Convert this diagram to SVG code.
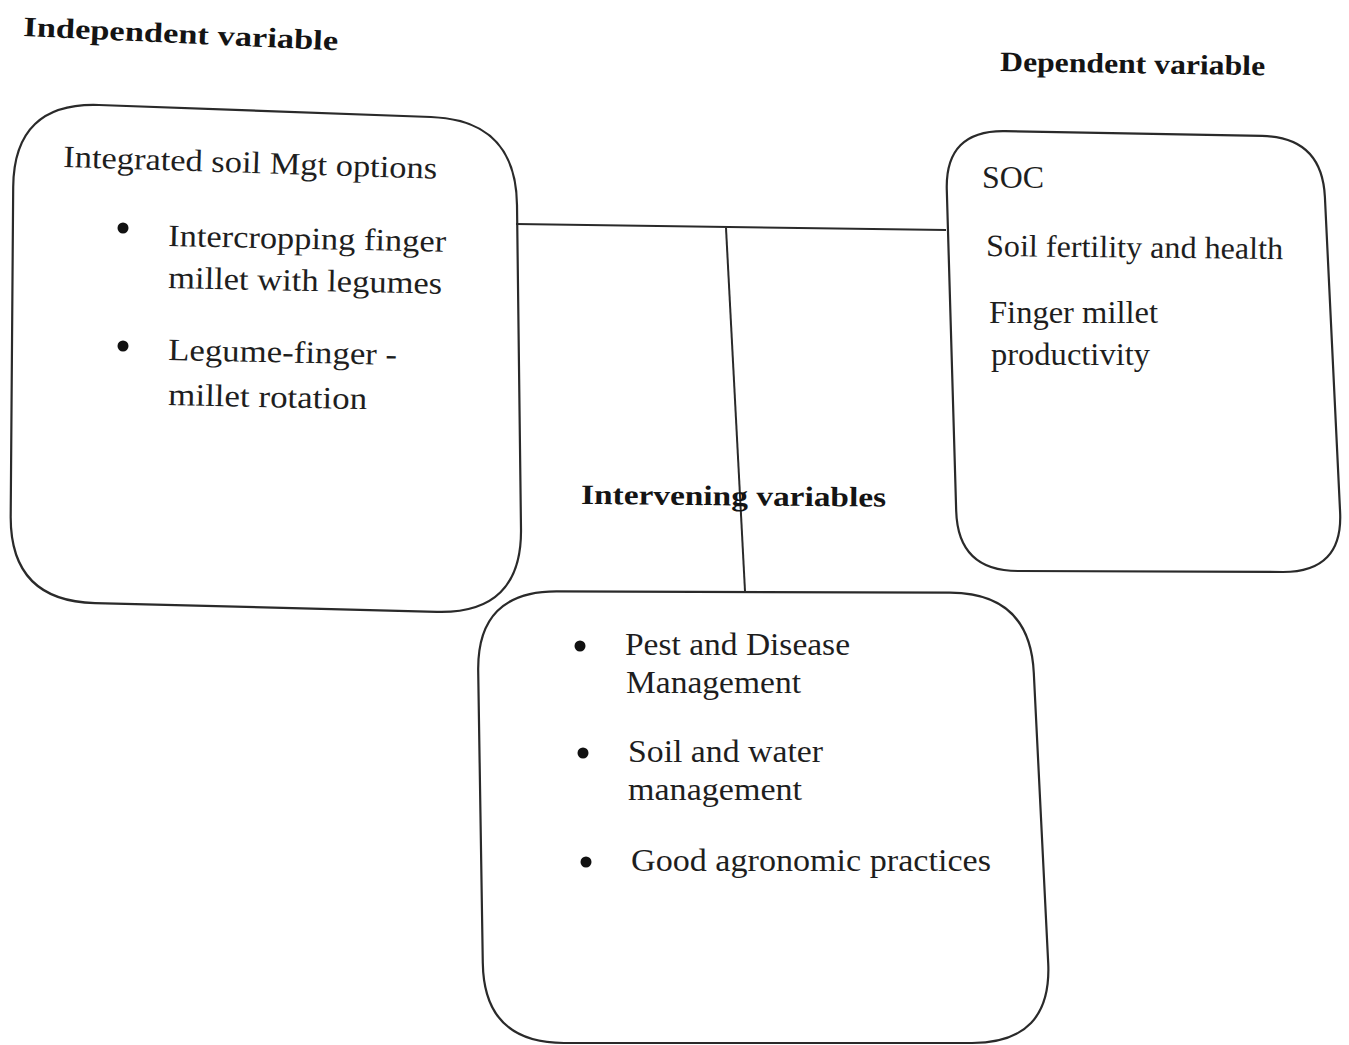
<svg xmlns="http://www.w3.org/2000/svg" width="1349" height="1045" viewBox="0 0 1349 1045">
<style>
  .box { fill: none; stroke: #2a2a2a; stroke-width: 2.2; }
  .conn { stroke: #2a2a2a; stroke-width: 2; fill: none; }
  .t { font-family: "Liberation Serif", "Times New Roman", serif; font-size: 31px; fill: #1e1e1e; }
  .h { font-family: "Liberation Serif", "Times New Roman", serif; font-size: 28px; font-weight: bold; fill: #141414; }
  .dot { fill: #111; }
</style>
<rect width="1349" height="1045" fill="#ffffff"/>

<g id="connectors">
  <line class="conn" x1="516" y1="224" x2="946" y2="230"/>
  <line class="conn" x1="726" y1="228" x2="745" y2="591"/>
</g>

<g id="label-independent">
  <text class="h" x="23" y="36" textLength="315" lengthAdjust="spacingAndGlyphs" transform="rotate(2.6 23 36)">Independent variable</text>
</g>
<g id="label-dependent">
  <text class="h" x="1000" y="71" textLength="265" lengthAdjust="spacingAndGlyphs" transform="rotate(0.9 1000 71)">Dependent variable</text>
</g>
<g id="label-intervening">
  <text class="h" x="581" y="504" textLength="305" lengthAdjust="spacingAndGlyphs" transform="rotate(0.5 581 504)">Intervening variables</text>
</g>

<g id="node-independent">
  <path class="box" d="M 13.2,187 Q 14,102 99,105 L 431,117 Q 516,120 517,205 L 521,529 Q 522,614 437,611.8 L 95,603.1 Q 10,601 10.7,516 Z"/>
  <text class="t" x="63" y="167" textLength="374" lengthAdjust="spacingAndGlyphs" transform="rotate(1.8 63 167)">Integrated soil Mgt options</text>
  <circle class="dot" cx="123" cy="228" r="5.5"/>
  <text class="t" x="168" y="246" textLength="278" lengthAdjust="spacingAndGlyphs" transform="rotate(1.2 168 246)">Intercropping finger</text>
  <text class="t" x="168" y="288" textLength="274" lengthAdjust="spacingAndGlyphs" transform="rotate(1.2 168 288)">millet with legumes</text>
  <circle class="dot" cx="123" cy="346" r="5.5"/>
  <text class="t" x="168" y="360" textLength="229" lengthAdjust="spacingAndGlyphs" transform="rotate(1.2 168 360)">Legume-finger -</text>
  <text class="t" x="168" y="405" textLength="199" lengthAdjust="spacingAndGlyphs" transform="rotate(1.2 168 405)">millet rotation</text>
</g>

<g id="node-dependent">
  <path class="box" d="M 946.8,190 Q 945,130 1005,131.1 L 1262,135.9 Q 1322,137 1324.9,197 L 1340.1,512 Q 1343,572 1283,572 L 1018,571 Q 958,571 956.2,511 Z"/>
  <text class="t" x="982" y="188" textLength="62" lengthAdjust="spacingAndGlyphs">SOC</text>
  <text class="t" x="986" y="256" textLength="297" lengthAdjust="spacingAndGlyphs" transform="rotate(0.6 986 256)">Soil fertility and health</text>
  <text class="t" x="989" y="323" textLength="169" lengthAdjust="spacingAndGlyphs">Finger millet</text>
  <text class="t" x="991" y="365" textLength="159" lengthAdjust="spacingAndGlyphs">productivity</text>
</g>

<g id="node-intervening">
  <path class="box" d="M 478.2,671 Q 477,591 557,591.3 L 950,592.7 Q 1030,593 1033.8,673 L 1048.2,963 Q 1052,1043 972,1043 L 564,1043 Q 484,1043 482.8,963 Z"/>
  <circle class="dot" cx="580" cy="646" r="5.5"/>
  <text class="t" x="625" y="655" textLength="225" lengthAdjust="spacingAndGlyphs">Pest and Disease</text>
  <text class="t" x="626" y="693" textLength="175" lengthAdjust="spacingAndGlyphs">Management</text>
  <circle class="dot" cx="583" cy="753" r="5.5"/>
  <text class="t" x="628" y="762" textLength="195" lengthAdjust="spacingAndGlyphs">Soil and water</text>
  <text class="t" x="628" y="800" textLength="174" lengthAdjust="spacingAndGlyphs">management</text>
  <circle class="dot" cx="586" cy="862" r="5.5"/>
  <text class="t" x="631" y="871" textLength="360" lengthAdjust="spacingAndGlyphs">Good agronomic practices</text>
</g>
</svg>
